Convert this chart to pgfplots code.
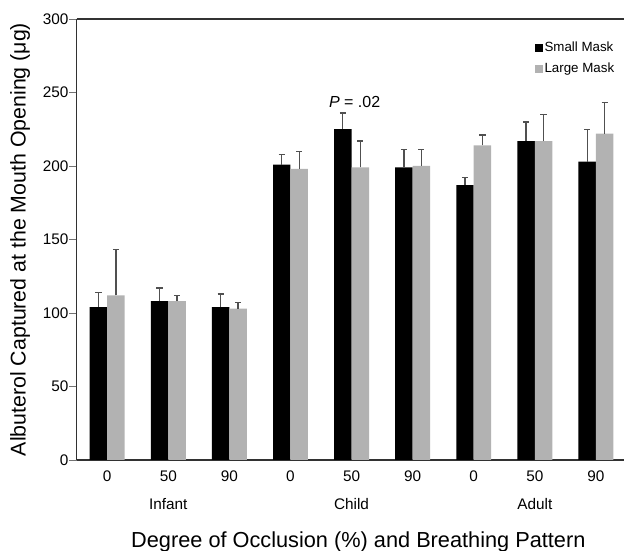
\documentclass[border=0pt]{standalone}
\usepackage{fontspec}
\setmainfont{Liberation Sans}
\usepackage{pgfplots}
\pgfplotsset{compat=1.18}
\definecolor{lgray}{RGB}{178,178,178}
\definecolor{ebar}{RGB}{80,80,80}
\definecolor{spine}{RGB}{50,50,50}
\begin{document}
\begin{tikzpicture}
\begin{axis}[
  name=ax,
  width=410.5pt, height=330.75pt, scale only axis,
  ymin=0, ymax=300, ytick={0,50,...,300},
  xmin=-0.5, xmax=8.46,
  xtick={0,...,8}, xticklabels={0,50,90,0,50,90,0,50,90},
  axis lines=left, axis line style={-, line width=1.1pt, spine},
  x tick style={draw=none}, y tick style={black!55, line width=0.7pt},
  tick align=outside, major tick length=5.5pt,
  ybar=0pt, bar width=13.1pt,
  tick label style={font=\fontsize{11.5}{13}\selectfont},
  /pgf/number format/assume math mode=true,
  yticklabel style={inner xsep=0.5pt},
  xticklabel style={anchor=base, yshift=-11pt},
  ylabel={Albuterol Captured at the Mouth Opening (μg)},
  ylabel style={font=\fontsize{16}{18}\selectfont,
    at={(axis description cs:0,0.5)}, anchor=center, yshift=42.5pt},
  xlabel={Degree of Occlusion (\%) and Breathing Pattern},
  xlabel style={font=\fontsize{16.3}{19}\selectfont,
    at={(axis description cs:0.5,0)}, anchor=base, yshift=-65.5pt, xshift=6pt},
  legend style={draw=none, fill=none, at={(0.985,0.952)}, anchor=north east,
    font=\fontsize{10}{12}\selectfont, row sep=4pt, inner sep=0pt,
    nodes={inner sep=1pt, text height=7.5pt, text depth=2pt},
    legend cell align=left},
  legend image code/.code={\fill[#1] (0pt,-3pt) rectangle (6pt,3pt);},
  error bars/y dir=plus, error bars/y explicit,
  error bars/error bar style={ebar, line width=1pt},
  error bars/error mark options={rotate=90, mark size=2.3pt, ebar, line width=1pt},
  clip=false,
]
\addplot[fill=black, draw=none] coordinates {
  (0,104) +- (0,10)
  (1,108) +- (0,9)
  (2,104) +- (0,9)
  (3,201) +- (0,7)
  (4,225) +- (0,11)
  (5,199) +- (0,12)
  (6,187) +- (0,5)
  (7,217) +- (0,13)
  (8,203) +- (0,22)
};
\addplot[fill=lgray, draw=none] coordinates {
  (0,112) +- (0,31)
  (1,108) +- (0,4)
  (2,103) +- (0,4)
  (3,198) +- (0,12)
  (4,199) +- (0,18)
  (5,200) +- (0,11)
  (6,214) +- (0,7)
  (7,217) +- (0,18)
  (8,222) +- (0,21)
};
\legend{Small Mask, Large Mask}
\draw[line width=1.1pt, spine] (rel axis cs:0,1) -- (rel axis cs:1,1);
\node[font=\fontsize{11.5}{13}\selectfont, anchor=base] at (axis cs:1,0) [yshift=-37.5pt] {Infant};
\node[font=\fontsize{11.5}{13}\selectfont, anchor=base] at (axis cs:4,0) [yshift=-37.5pt] {Child};
\node[font=\fontsize{11.5}{13}\selectfont, anchor=base] at (axis cs:7,0) [yshift=-37.5pt] {Adult};
\node[font=\fontsize{12}{14}\selectfont, anchor=base] at (axis cs:4.05,240) {\textit{P} = .02};
\end{axis}
\pgfresetboundingbox
\path ([xshift=-57.5pt, yshift=-68.25pt]ax.south west) rectangle ([yshift=14.25pt]ax.north east);
\end{tikzpicture}
\end{document}
